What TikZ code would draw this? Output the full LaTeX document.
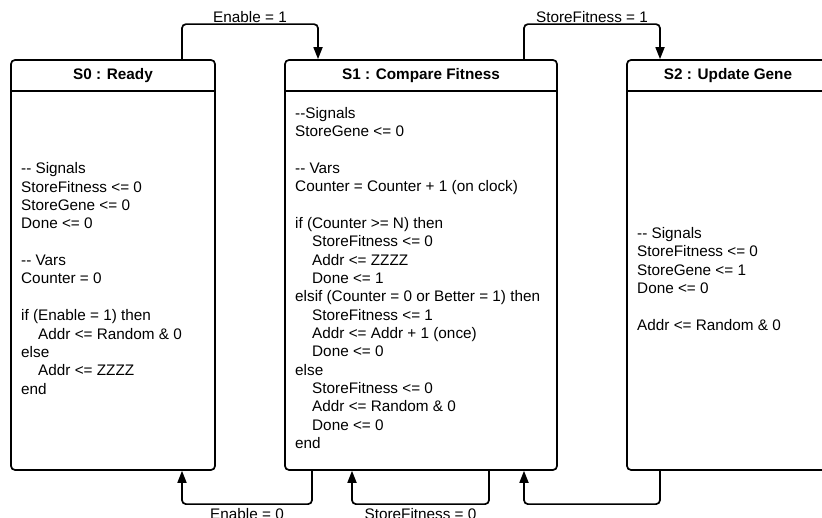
\documentclass[tikz,border=0pt]{standalone}
\usepackage{fontspec}
\setmainfont{Liberation Sans}
\usetikzlibrary{arrows.meta,calc}
% two hyphens that the TeX ligature mapping must not join into a dash
\newcommand\dashdash{-\kern0pt-}
\newcommand\ind{\hspace*{17pt}}
\begin{document}
\begin{tikzpicture}[x=1pt,y=1pt,
  txt/.style={font=\fontsize{15.3}{18.35}\selectfont},
  statebox/.style={draw, line width=1.7pt, rounded corners=4pt, fill=white, inner sep=0pt},
  title/.style={font=\fontsize{15.3}{18.35}\selectfont\bfseries, inner sep=0pt, anchor=base},
  body/.style={txt, align=left, inner sep=0pt, anchor=west},
  divider/.style={line width=1.7pt},
  conn/.style={line width=1.7pt, rounded corners=4pt, -{Triangle[length=12pt,width=9pt]}},
  lbl/.style={txt, inner sep=0pt, anchor=base}]
\useasboundingbox (0,0) rectangle (822,518);
\fill[white] (0,0) rectangle (822,518);

% state boxes
\node[statebox, minimum width=204pt, minimum height=410pt] (s0) at (113,253) {};
\node[statebox, minimum width=272pt, minimum height=410pt] (s1) at (421,253) {};
\node[statebox, minimum width=202pt, minimum height=410pt] (s2) at (728,253) {};

% header dividers
\coordinate (hd) at (0,427);
\draw[divider] (s0.west |- hd) -- (s0.east |- hd);
\draw[divider] (s1.west |- hd) -- (s1.east |- hd);
\draw[divider] (s2.west |- hd) -- (s2.east |- hd);

% titles
\node[title] (t0) at (113,438) {S0 : Ready};
\node[title] (t1) at (421,438) {S1 : Compare Fitness};
\node[title] (t2) at (728,438) {S2 : Update Gene};

% state actions
\node[body] (b0) at (21,239.5) {\dashdash{} Signals\\
StoreFitness <= 0\\
StoreGene <= 0\\
Done <= 0\\[18.35pt]
\dashdash{} Vars\\
Counter = 0\\[18.35pt]
if (Enable = 1) then\\
\ind Addr <= Random \& 0\\
else\\
\ind Addr <= ZZZZ\\
end};

\node[body] (b1) at (295,240) {\dashdash Signals\\
StoreGene <= 0\\[18.35pt]
\dashdash{} Vars\\
Counter = Counter + 1 (on clock)\\[18.35pt]
if (Counter >= N) then\\
\ind StoreFitness <= 0\\
\ind Addr <= ZZZZ\\
\ind Done <= 1\\
elsif (Counter = 0 or Better = 1) then\\
\ind StoreFitness <= 1\\
\ind Addr <= Addr + 1 (once)\\
\ind Done <= 0\\
else\\
\ind StoreFitness <= 0\\
\ind Addr <= Random \& 0\\
\ind Done <= 0\\
end};

\node[body] (b2) at (637,239) {\dashdash{} Signals\\
StoreFitness <= 0\\
StoreGene <= 1\\
Done <= 0\\[18.35pt]
Addr <= Random \& 0};

% transitions over the top
\draw[conn] ([xshift=69pt]s0.north) -- ++(0,35) -| ([xshift=-103pt]s1.north);
\draw[conn] ([xshift=103pt]s1.north) -- ++(0,35) -| ([xshift=-68pt]s2.north);
\node[lbl] (l1) at (250,495.3) {Enable = 1};
\node[lbl] (l2) at (592,495.3) {StoreFitness = 1};

% transitions underneath
\draw[conn] ([xshift=-109pt]s1.south) -- ++(0,-33.3) -| ([xshift=69pt]s0.south);
\draw[conn] ([xshift=68pt]s1.south) -- ++(0,-33.3) -| ([xshift=-69pt]s1.south);
\draw[conn] ([xshift=-68pt]s2.south) -- ++(0,-33.3) -| ([xshift=103pt]s1.south);
\node[lbl] (l3) at (247,-1.3) {Enable = 0};
\node[lbl] (l4) at (420.5,-1.3) {StoreFitness = 0};
\end{tikzpicture}
\end{document}
